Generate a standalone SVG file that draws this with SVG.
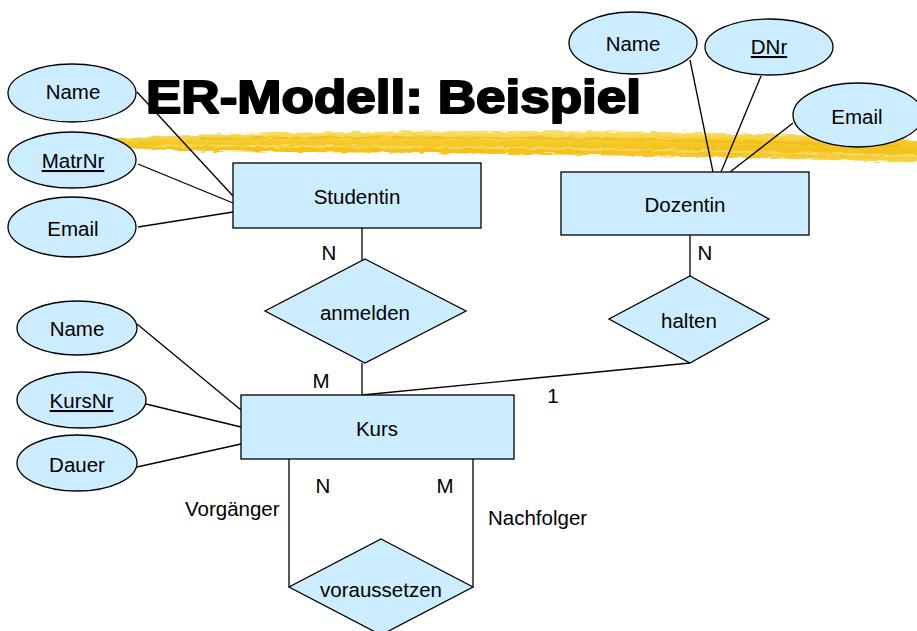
<svg xmlns="http://www.w3.org/2000/svg" width="917" height="631" viewBox="0 0 917 631">
<style>
.n{fill:#CCECFF;stroke:#000;stroke-width:1.3}
.c{stroke:#000;stroke-width:1.3;fill:none}
text{font-family:"Liberation Sans",Arial,sans-serif;font-size:20.5px;fill:#000}
.m{text-anchor:middle}
.u{text-decoration:underline}
.t{font-size:46px;font-weight:bold;stroke:#000;stroke-width:2;stroke-linejoin:round}
</style>
<defs>
<linearGradient id="brush" x1="0" y1="0" x2="0" y2="1">
<stop offset="0" stop-color="#FBE170"/>
<stop offset="0.35" stop-color="#F5C928"/>
<stop offset="0.65" stop-color="#F3C01C"/>
<stop offset="1" stop-color="#F8D858"/>
</linearGradient>
<filter id="rough" x="-5%" y="-50%" width="110%" height="200%">
<feTurbulence type="fractalNoise" baseFrequency="0.08 0.5" numOctaves="2" seed="3"/>
<feDisplacementMap in="SourceGraphic" scale="6" xChannelSelector="R" yChannelSelector="G"/>
</filter>
</defs>
<rect width="917" height="631" fill="#fff"/>
<g id="brushstroke" filter="url(#rough)">
<path d="M98,141 C150,135 250,133 350,132 C500,130 650,131 760,134 C840,136 900,139 925,141 L925,163 C880,161 800,159 700,157 C560,154 420,153 300,152 C200,151 140,150 98,146 Z" fill="url(#brush)"/>
<path d="M200,139 C400,136 600,137 900,146" stroke="#EAB000" stroke-width="2" opacity="0.5" fill="none"/>
<path d="M150,146 C400,145 650,149 917,156" stroke="#FCE68A" stroke-width="2" opacity="0.6" fill="none"/>
</g>
<g id="connectors">
<line class="c" x1="137" y1="92" x2="233" y2="196"/>
<line class="c" x1="138" y1="164" x2="233" y2="203"/>
<line class="c" x1="138" y1="227" x2="233" y2="212"/>
<line class="c" x1="690" y1="60" x2="713" y2="172"/>
<line class="c" x1="761" y1="76" x2="721" y2="172"/>
<line class="c" x1="793" y1="123" x2="730" y2="172"/>
<line class="c" x1="362" y1="228" x2="362" y2="260"/>
<line class="c" x1="362" y1="363" x2="362" y2="395"/>
<line class="c" x1="690" y1="235" x2="690" y2="276"/>
<line class="c" x1="690" y1="363" x2="362" y2="395"/>
<line class="c" x1="137" y1="324" x2="241" y2="410"/>
<line class="c" x1="146" y1="404" x2="241" y2="427"/>
<line class="c" x1="137" y1="467" x2="241" y2="444"/>
<line class="c" x1="289" y1="459" x2="289" y2="587"/>
<line class="c" x1="473" y1="459" x2="473" y2="587"/>
</g>
<g id="title"><text class="t" x="146" y="113" textLength="495" lengthAdjust="spacingAndGlyphs">ER-Modell: Beispiel</text></g>
<g id="s_name"><ellipse class="n" cx="72" cy="93" rx="64" ry="29"/><text class="m" x="73" y="99">Name</text></g>
<g id="s_matrnr"><ellipse class="n" cx="72" cy="160" rx="64" ry="28"/><text class="m u" x="73" y="168">MatrNr</text></g>
<g id="s_email"><ellipse class="n" cx="72" cy="227" rx="64" ry="30"/><text class="m" x="73" y="236">Email</text></g>
<g id="studentin"><rect class="n" x="233" y="163" width="248" height="65"/><text class="m" x="357" y="204">Studentin</text></g>
<g id="d_name"><ellipse class="n" cx="633" cy="43" rx="64" ry="31"/><text class="m" x="633" y="51">Name</text></g>
<g id="d_dnr"><ellipse class="n" cx="769" cy="47" rx="64" ry="28"/><text class="m u" x="769" y="54">DNr</text></g>
<g id="d_email"><ellipse class="n" cx="858" cy="115" rx="65" ry="32"/><text class="m" x="857" y="124">Email</text></g>
<g id="dozentin"><rect class="n" x="561" y="172" width="248" height="63"/><text class="m" x="685" y="212">Dozentin</text></g>
<g id="anmelden"><polygon class="n" points="365,259 466,311 365,363 265,311"/><text class="m" x="365" y="320">anmelden</text></g>
<g id="halten"><polygon class="n" points="690,276 769,319 690,363 609,319"/><text class="m" x="689" y="328">halten</text></g>
<g id="k_name"><ellipse class="n" cx="77" cy="328" rx="60" ry="27"/><text class="m" x="77" y="336">Name</text></g>
<g id="k_kursnr"><ellipse class="n" cx="81.5" cy="400" rx="64.5" ry="28"/><text class="m u" x="81.5" y="408">KursNr</text></g>
<g id="k_dauer"><ellipse class="n" cx="77" cy="463" rx="60" ry="28"/><text class="m" x="77" y="472">Dauer</text></g>
<g id="kurs"><rect class="n" x="241" y="395" width="273" height="64"/><text class="m" x="377" y="436">Kurs</text></g>
<g id="voraussetzen"><polygon class="n" points="381,539 473,587 381,635 289,587"/><text class="m" x="381" y="597">voraussetzen</text></g>
<g id="labels">
<text class="m" x="329" y="260">N</text>
<text class="m" x="321" y="388">M</text>
<text class="m" x="705" y="260">N</text>
<text class="m" x="553" y="403">1</text>
<text class="m" x="323" y="493">N</text>
<text class="m" x="445" y="493">M</text>
<text x="185" y="516">Vorgänger</text>
<text x="488" y="525">Nachfolger</text>
</g>
</svg>
